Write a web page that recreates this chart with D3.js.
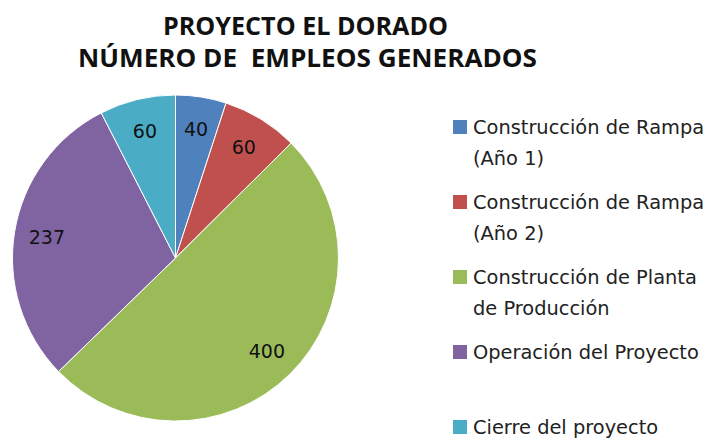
<!DOCTYPE html>
<html><head><meta charset="utf-8">
<script src="https://cdn.jsdelivr.net/npm/d3@7"></script>
<style>body{margin:0;background:#fff}svg{display:block}</style>
</head><body>
<script>
const categories = ["Construcción de Rampa (Año 1)","Construcción de Rampa (Año 2)","Construcción de Planta de Producción","Operación del Proyecto","Cierre del proyecto"];
const legendLines = [["Construcción de Rampa","(Año 1)"],["Construcción de Rampa","(Año 2)"],["Construcción de Planta","de Producción"],["Operación del Proyecto"],["Cierre del proyecto"]];
const values = [40, 60, 400, 237, 60];
const colors = ["#4F81BD","#C0504D","#9BBB59","#8064A2","#4BACC6"];
const titleLines = ["PROYECTO EL DORADO","NÚMERO DE  EMPLEOS GENERADOS"];
const titleWidths = [285, 459];

const W = 716, H = 441;
const svg = d3.select("body").append("svg").attr("width", W).attr("height", H);

svg.append("g").selectAll("text").data(titleLines).join("text")
  .attr("x", (d,i)=>[163,78][i]).attr("y", (d,i)=>35+i*32)
  .attr("textLength",(d,i)=>titleWidths[i]).attr("lengthAdjust","spacingAndGlyphs")
  .style("font-family","'Open Sans', sans-serif").style("font-weight","bold").style("font-size","25px")
  .style("white-space","pre").attr("xml:space","preserve")
  .attr("fill","#111").text(d=>d);

const cx = 175.5, cy = 258, R = 163;
const pie = d3.pie().sort(null).value(d=>d)(values);
const arc = d3.arc().innerRadius(0).outerRadius(R);
const labelArc = d3.arc().innerRadius(R*0.8).outerRadius(R*0.8);
const g = svg.append("g").attr("transform",`translate(${cx},${cy})`);
g.selectAll("path").data(pie).join("path")
  .attr("d", arc).attr("fill",(d,i)=>colors[i])
  .attr("stroke","#fff").attr("stroke-width",1);
g.selectAll("text").data(pie).join("text")
  .attr("transform", d=>`translate(${labelArc.centroid(d)})`)
  .attr("text-anchor","middle").attr("dy","0.36em")
  .style("font-family","'DejaVu Sans', sans-serif").style("font-size","19px")
  .attr("fill","#111").text(d=>d.data);

const lg = svg.append("g");
const item = lg.selectAll("g").data(legendLines).join("g")
  .attr("transform",(d,i)=>`translate(453,${127+i*75})`);
item.append("rect").attr("x",0).attr("y",-7).attr("width",14).attr("height",14)
  .attr("fill",(d,i)=>colors[i]);
item.selectAll("text").data(d=>d).join("text")
  .attr("x",20).attr("y",(d,j)=>7+j*31)
  .style("font-family","'DejaVu Sans', sans-serif").style("font-size","19.4px")
  .attr("fill","#222").text(d=>d);
</script>
</body></html>
